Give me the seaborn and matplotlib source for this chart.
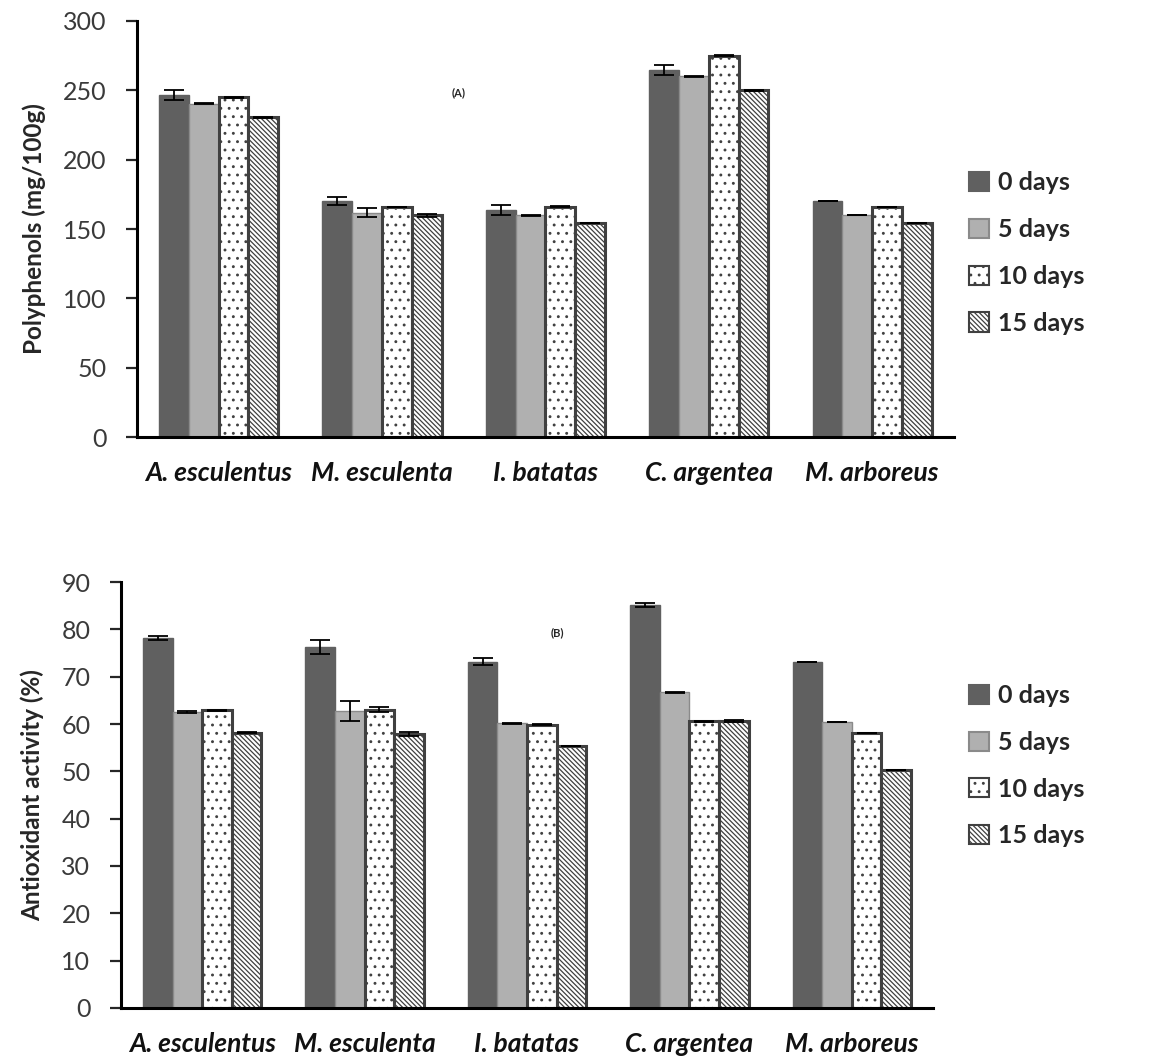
import matplotlib
matplotlib.use("Agg")
import matplotlib.pyplot as plt
from matplotlib.patches import Patch
import seaborn as sns
import pandas as pd
import numpy as np

# Species and storage times
species = ["A. esculentus", "M. esculenta", "I. batatas", "C. argentea", "M. arboreus"]
days = ["0 days", "5 days", "10 days", "15 days"]

# Polyphenols (mg/100g), one list per storage time
poly_0 = [246.7, 170.3, 163.8, 265.0, 170.0]
poly_5 = [240.3, 161.8, 160.0, 260.0, 160.0]
poly_10 = [245.0, 165.9, 166.0, 275.0, 166.0]
poly_15 = [230.6, 160.0, 154.2, 250.0, 154.0]
poly_err_0 = [3.7, 2.7, 3.5, 3.6, 0.0]
poly_err_5 = [0.3, 3.0, 0.3, 0.3, 0.0]
poly_err_10 = [0.3, 0.3, 0.3, 0.3, 0.0]
poly_err_15 = [0.3, 1.0, 0.0, 0.3, 0.0]

# Antioxidant activity (%), one list per storage time
anti_0 = [78.2, 76.2, 73.2, 85.1, 73.2]
anti_5 = [62.5, 62.8, 60.2, 66.7, 60.5]
anti_10 = [62.9, 63.0, 59.8, 60.6, 58.1]
anti_15 = [58.2, 57.9, 55.3, 60.6, 50.2]
anti_err_0 = [0.4, 1.5, 0.8, 0.4, 0.0]
anti_err_5 = [0.2, 2.1, 0.1, 0.1, 0.0]
anti_err_10 = [0.1, 0.5, 0.1, 0.1, 0.0]
anti_err_15 = [0.1, 0.4, 0.0, 0.2, 0.0]

FONT = "Lato"

face = ["#606060", "#b0b0b0", "#ffffff", "#ffffff"]
edge = ["#606060", "#8a8a8a", "#404040", "#404040"]
hatch = ["", "", "..", "\\\\\\\\\\\\\\"]


def long_table(series, errs):
    rows = []
    for d, vals, es in zip(days, series, errs):
        for s, v, e in zip(species, vals, es):
            rows.append({"species": s, "days": d, "value": v, "err": e})
    return pd.DataFrame(rows)


def draw_panel(ax, df, ymax, ystep, ylabel, tag, tag_xy):
    sns.barplot(data=df, x="species", y="value", hue="days",
                order=species, hue_order=days, width=0.73,
                palette=face, errorbar=None, legend=False, ax=ax)
    bar_groups = list(ax.containers)
    for i, cont in enumerate(bar_groups):
        sub = df[df["days"] == days[i]].set_index("species").loc[species]
        xs, hs = [], []
        for p in cont.patches:
            p.set_facecolor(face[i])
            p.set_edgecolor(edge[i])
            p.set_linewidth(2.2 if i >= 2 else 1.0)
            p.set_hatch(hatch[i])
            xs.append(p.get_x() + p.get_width() / 2)
            hs.append(p.get_height())
        ax.errorbar(xs, hs, yerr=sub["err"].values, fmt="none",
                    ecolor="black", elinewidth=1.3, capsize=7, capthick=1.3,
                    zorder=5)
    ax.set_xlim(-0.5, len(species) - 0.5)
    ax.set_ylim(0, ymax)
    ax.set_yticks(np.arange(0, ymax + 1, ystep))
    ax.set_xticks(range(len(species)))
    ax.set_xticklabels(species, fontsize=19, fontweight="bold",
                       fontstyle="italic", color="#111111")
    ax.set_xticks(np.arange(-0.5, len(species)), minor=True)
    ax.tick_params(axis="x", which="major", length=0, pad=17)
    ax.tick_params(axis="x", which="minor", length=9, width=2.2,
                   direction="out", color="black")
    ax.tick_params(axis="y", length=8, width=1.6, direction="out",
                   labelsize=18, labelcolor="#3a3a3a", pad=14, left=True)
    ax.set_xlabel("")
    ax.set_ylabel(ylabel, fontsize=17.5, fontweight="bold", labelpad=12)
    for side in ("top", "right"):
        ax.spines[side].set_visible(False)
    for side in ("left", "bottom"):
        ax.spines[side].set_linewidth(2.2)
        ax.spines[side].set_color("black")
    ax.text(tag_xy[0], tag_xy[1], tag, transform=ax.transAxes,
            fontsize=8, fontweight="bold", ha="center", va="center")


sns.set_style("white")
plt.rcParams["font.family"] = [FONT, "DejaVu Sans"]
plt.rcParams["hatch.color"] = "#303030"
plt.rcParams["hatch.linewidth"] = 0.9

fig = plt.figure(figsize=(11.5, 10.59), dpi=100)
ax1 = fig.add_axes([0.1191, 0.5873, 0.7104, 0.3929])
ax2 = fig.add_axes([0.1052, 0.0482, 0.7061, 0.4022])

df1 = long_table([poly_0, poly_5, poly_10, poly_15],
                 [poly_err_0, poly_err_5, poly_err_10, poly_err_15])
df2 = long_table([anti_0, anti_5, anti_10, anti_15],
                 [anti_err_0, anti_err_5, anti_err_10, anti_err_15])

draw_panel(ax1, df1, 300, 50, "Polyphenols (mg/100g)", "(A)", (0.394, 0.827))
draw_panel(ax2, df2, 90, 10, "Antioxidant activity (%)", "(B)", (0.537, 0.88))

handles = [Patch(facecolor=face[i], edgecolor=edge[i], hatch=hatch[i],
                 linewidth=1.5, label=days[i]) for i in range(len(days))]
for anchor in ((0.823, 0.761), (0.823, 0.277)):
    fig.legend(handles=handles, loc="center left", bbox_to_anchor=anchor,
               frameon=False, prop={"family": FONT, "weight": "bold", "size": 18},
               handlelength=0.8, handleheight=0.8, handletextpad=0.35,
               labelspacing=0.95)

fig.savefig("out.png", dpi=100, facecolor="white")
